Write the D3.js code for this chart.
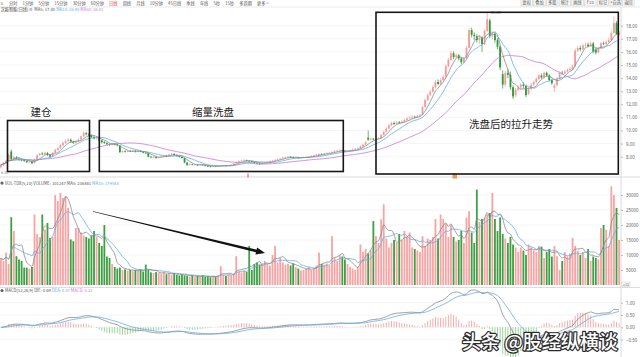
<!DOCTYPE html>
<html><head><meta charset="utf-8">
<script src="https://cdn.jsdelivr.net/npm/d3@7/dist/d3.min.js"></script>
<style>html,body{margin:0;padding:0;background:#fff;overflow:hidden}svg{display:block;font-family:"Noto Sans CJK SC","Noto Sans",sans-serif}</style>
</head><body><svg id="c" width="640" height="357"></svg>
<script>
// ===== DATA =====
const open=[
7.20,7.35,7.50,7.72,8.40,7.80,7.95,7.85,7.78,7.74,
7.66,7.58,7.60,7.52,7.80,8.12,8.24,8.18,8.28,8.12,
8.02,8.30,8.52,8.66,8.88,9.05,9.22,9.30,9.15,9.06,
9.18,9.32,9.55,9.80,9.70,9.64,9.50,9.40,9.46,9.25,
9.12,9.04,8.95,8.90,8.98,8.92,8.85,8.35,8.42,8.38,
8.45,8.40,8.45,8.38,8.44,8.40,8.30,8.28,8.00,7.95,
7.98,7.90,7.96,8.02,8.10,8.06,8.15,8.22,8.12,8.05,
7.98,7.90,7.55,7.37,7.42,7.38,7.40,7.36,7.39,7.37,
7.30,7.28,7.24,7.28,7.26,7.30,7.30,7.34,7.31,7.35,
7.37,7.48,7.58,7.66,7.70,7.74,7.68,7.67,7.60,7.52,
7.48,7.45,7.52,7.56,7.60,7.66,7.70,7.76,7.80,7.86,
7.92,7.96,8.00,7.96,7.92,7.94,7.90,7.93,7.95,7.98,
8.00,8.06,8.10,8.15,8.20,8.18,8.24,8.28,8.30,8.36,
8.42,8.46,8.50,8.44,8.40,8.42,8.48,8.55,8.60,8.65,
8.78,8.92,9.45,9.30,9.38,9.32,9.36,9.40,9.66,9.90,
10.15,10.40,10.57,10.50,10.62,10.58,10.67,10.80,10.92,10.98,
11.05,11.00,11.12,11.20,11.80,12.33,12.70,12.95,13.30,13.70,
13.55,13.85,14.10,14.90,15.40,15.90,15.60,15.75,15.50,15.20,
15.50,16.30,17.67,17.30,17.20,16.90,17.10,16.60,17.60,18.40,
17.20,17.40,16.90,16.40,14.30,13.50,14.40,14.25,13.30,12.70,
13.10,13.30,13.50,13.40,12.80,13.20,13.50,13.70,13.95,14.20,
14.05,14.40,14.20,13.85,13.25,13.45,13.95,14.40,14.35,14.50,
14.62,14.70,14.90,16.10,16.30,16.20,16.50,16.55,16.45,16.65,
16.20,15.95,16.30,16.65,16.60,16.75,16.90,17.45,18.20,17.35];
const close=[
7.38,7.52,7.70,8.15,7.80,7.95,7.85,7.80,7.75,7.68,
7.58,7.62,7.50,7.80,8.10,8.22,8.18,8.30,8.12,8.00,
8.30,8.52,8.66,8.88,9.05,9.20,9.30,9.15,9.05,9.18,
9.30,9.55,9.80,9.72,9.65,9.50,9.40,9.48,9.25,9.10,
9.05,8.95,8.90,8.98,8.92,8.88,8.35,8.42,8.38,8.45,
8.40,8.46,8.38,8.44,8.40,8.30,8.28,8.00,7.95,7.98,
7.90,7.96,8.02,8.10,8.06,8.15,8.22,8.12,8.05,7.98,
7.90,7.55,7.37,7.42,7.38,7.40,7.36,7.39,7.37,7.30,
7.28,7.24,7.28,7.26,7.30,7.30,7.34,7.31,7.35,7.37,
7.48,7.58,7.66,7.70,7.74,7.68,7.67,7.60,7.52,7.48,
7.45,7.52,7.56,7.60,7.66,7.70,7.76,7.80,7.86,7.92,
7.96,8.00,7.96,7.92,7.94,7.90,7.93,7.95,7.98,8.00,
8.06,8.10,8.15,8.20,8.18,8.24,8.28,8.30,8.36,8.42,
8.46,8.50,8.44,8.40,8.42,8.48,8.55,8.60,8.65,8.78,
8.92,9.10,9.30,9.38,9.32,9.36,9.40,9.66,9.90,10.15,
10.40,10.57,10.50,10.62,10.58,10.67,10.80,10.92,10.98,11.05,
11.00,11.12,11.18,11.80,12.33,12.70,12.95,13.30,13.70,13.55,
13.85,14.10,14.90,15.40,15.90,15.60,15.75,15.50,15.20,15.50,
16.30,17.67,17.30,17.20,16.90,17.10,16.60,17.60,18.50,17.20,
17.40,16.90,16.40,14.80,13.50,14.40,14.25,13.30,12.60,13.10,
13.30,13.50,13.40,12.70,13.20,13.50,13.70,13.95,14.20,14.05,
14.40,14.20,13.85,13.60,13.45,13.95,14.40,14.35,14.50,14.62,
14.70,14.90,16.10,16.30,16.20,16.50,16.55,16.45,16.65,16.00,
15.95,16.30,16.65,16.60,16.75,16.90,17.45,18.20,17.35,17.45];
const high=[
7.45,7.60,7.78,8.25,8.55,8.05,8.05,7.95,7.88,7.80,
7.72,7.70,7.66,7.86,8.18,8.30,8.35,8.40,8.36,8.18,
8.36,8.60,8.75,8.96,9.15,9.30,9.42,9.38,9.22,9.25,
9.38,9.62,9.95,9.90,9.80,9.70,9.58,9.55,9.52,9.30,
9.20,9.10,9.02,9.05,9.05,8.98,8.88,8.50,8.48,8.52,
8.50,8.52,8.50,8.50,8.48,8.44,8.36,8.30,8.05,8.04,
8.02,8.00,8.08,8.15,8.14,8.20,8.28,8.26,8.16,8.08,
8.02,7.92,7.58,7.48,7.46,7.45,7.44,7.43,7.42,7.40,
7.34,7.31,7.32,7.31,7.34,7.35,7.38,7.37,7.39,7.42,
7.52,7.62,7.72,7.76,7.80,7.78,7.72,7.70,7.63,7.56,
7.52,7.56,7.60,7.65,7.70,7.75,7.80,7.86,7.90,7.98,
8.02,8.06,8.04,8.00,7.98,7.97,7.97,8.00,8.02,8.05,
8.10,8.15,8.20,8.25,8.24,8.28,8.33,8.36,8.41,8.47,
8.52,8.56,8.54,8.48,8.46,8.52,8.60,8.66,8.72,8.84,
8.98,9.18,10.00,9.45,9.44,9.42,9.48,9.72,9.98,10.25,
10.50,10.66,10.68,10.70,10.72,10.78,10.88,11.00,11.08,11.15,
11.14,11.20,11.28,11.90,12.45,12.85,13.10,13.45,13.85,13.90,
13.98,14.25,15.05,15.55,16.10,16.05,15.90,15.85,15.60,15.62,
16.45,17.80,17.85,17.50,17.35,17.25,17.20,17.75,18.90,18.55,
17.60,17.50,17.05,16.50,14.60,14.55,14.70,14.50,13.45,13.25,
13.45,13.60,13.70,13.50,13.30,13.62,13.82,14.05,14.30,14.35,
14.50,14.50,14.30,13.95,13.60,14.05,14.50,14.55,14.65,14.75,
14.85,15.05,16.25,16.45,16.50,16.62,16.70,16.72,16.80,16.75,
16.30,16.40,16.78,16.80,16.90,17.05,17.60,18.70,18.35,17.60];
const low=[
7.10,7.30,7.45,7.68,7.72,7.72,7.78,7.70,7.66,7.58,
7.50,7.52,7.42,7.48,7.76,8.05,8.10,8.12,8.06,7.92,
7.98,8.25,8.45,8.60,8.82,8.98,9.12,9.05,8.98,9.00,
9.10,9.28,9.50,9.62,9.55,9.42,9.32,9.30,9.18,9.02,
8.98,8.88,8.82,8.85,8.86,8.80,8.28,8.30,8.32,8.34,
8.35,8.36,8.32,8.33,8.35,8.25,8.22,7.95,7.88,7.90,
7.85,7.86,7.92,7.98,8.00,8.02,8.10,8.08,8.00,7.92,
7.85,7.50,7.30,7.32,7.33,7.34,7.30,7.32,7.32,7.26,
7.22,7.18,7.20,7.21,7.22,7.25,7.26,7.27,7.28,7.30,
7.33,7.44,7.54,7.60,7.64,7.62,7.60,7.55,7.48,7.42,
7.40,7.42,7.48,7.52,7.56,7.62,7.66,7.72,7.76,7.82,
7.88,7.92,7.91,7.87,7.88,7.85,7.86,7.89,7.91,7.94,
7.96,8.02,8.06,8.10,8.13,8.14,8.20,8.24,8.26,8.31,
8.38,8.41,8.40,8.35,8.35,8.38,8.44,8.50,8.56,8.60,
8.72,8.88,9.20,9.22,9.25,9.26,9.30,9.36,9.60,9.85,
10.10,10.32,10.42,10.44,10.50,10.52,10.60,10.74,10.86,10.90,
10.94,10.95,11.05,11.15,11.75,12.25,12.62,12.88,13.22,13.45,
13.48,13.78,14.05,14.82,15.30,15.45,15.50,15.35,15.05,15.10,
15.45,16.25,17.10,16.90,16.70,16.60,16.00,16.50,17.50,17.05,
16.95,16.70,16.20,14.60,13.20,13.35,14.00,13.10,12.40,12.55,
13.00,13.15,13.20,12.55,12.70,13.10,13.40,13.60,13.85,13.95,
13.98,14.10,13.75,13.50,12.95,13.40,13.90,14.25,14.28,14.42,
14.55,14.62,14.85,16.00,16.05,16.10,16.40,16.35,16.38,15.90,
15.80,15.88,16.22,16.50,16.52,16.65,16.85,17.40,17.30,17.20];
const volume=[
9000,8000,10800,7000,22600,18000,9600,8500,8000,5800,
5800,5500,6000,23500,17000,16000,23500,18500,20700,15700,
16000,30000,28000,30700,29000,29600,25700,15200,14600,19000,
19000,17500,16500,16000,15500,16500,18000,16000,14000,13000,
20000,9500,9000,7000,6000,5500,5800,5000,5200,4800,
5000,4600,5000,4800,5200,4500,6800,5000,4200,4000,
4300,4000,3800,4200,3600,4000,3500,3800,3400,3200,
3500,3200,3000,2800,3200,2600,3000,2800,3300,2700,
2900,2600,3000,2800,3200,6300,3400,3000,3600,3300,
3800,9600,4500,4200,4800,4400,13000,5000,7000,7500,
6800,7200,8000,7000,6500,10000,13000,7500,9000,7500,
6800,7000,6500,7200,6000,5500,4800,5000,5500,6000,
5000,5500,6500,10800,7000,6800,7200,6500,16300,9000,
8000,10000,9500,8500,7000,6000,5500,5000,6000,13500,
11000,12000,10500,11500,21300,16300,14000,21900,26900,15500,
12500,14000,15000,14000,17000,15000,18000,16000,17500,12500,
12000,11500,11000,16300,13000,15500,15000,16000,22000,15500,
23500,22000,20500,16000,20000,16000,14500,15000,18000,14000,
22500,24600,17500,14000,31800,21000,22000,22500,23500,24000,
30700,22000,18000,22500,17000,15500,14000,16000,13500,12500,
11000,12500,11500,10000,13500,12500,11500,11000,13000,12800,
9000,11000,12000,9500,13000,9600,5000,8000,11000,9500,
10500,15700,13000,11500,10000,11000,9000,12000,8000,9500,
9000,8500,19000,20000,18500,13000,32900,30000,25700,15000];
const priceTicks=[8,9,10,11,12,13,14,15,16,17,18];
const volTicks=[5000,10000,15000,20000,25000,30000];
const macdTicks=[-0.5,0,0.5,1];
const periodTabs=["分时","1分钟","5分钟","15分钟","30分钟","60分钟","日线","周线","月线","10分钟","45日线","季线","年线","5秒","15秒","多周期","更多 >"];
const toolButtons=["复权","叠加","多股","统计","画线","F10","标记","+自选","返回"];
const notes=[{text:"建仓",from:3,to:34},{text:"缩量洗盘",from:38,to:133},{text:"洗盘后的拉升走势",from:146,to:239}];

// ===== CHART =====
const svg=d3.select('#c');
const N=close.length;
const axisX=621;
const x=d3.scaleBand().domain(d3.range(N)).range([0,axisX-1]).paddingInner(0.3);
const bw=x.bandwidth(), cx=i=>x(i)+bw/2;
const yP=d3.scaleLinear().domain([8,18]).range([156.7,25.7]);
const yV=d3.scaleLinear().domain([0,30000]).range([285,195]);
const yM=d3.scaleLinear().domain([-0.5,1]).range([339.6,302.7]);
const UP='#f59a9a',DOWN='#2e9a36',VUP='#f7a4a4',VDN='#3f9f45';
const C5='#8a8a8a',C10='#62aee9',C30='#c67ad2';
const isUp=i=>close[i]>=open[i];

function ma(a,n){return a.map((_,i)=>d3.mean(a.slice(Math.max(0,i-n+1),i+1)));}
function ema(a,n){const k=2/(n+1),r=[];a.forEach((v,i)=>r.push(i?r[i-1]+(v-r[i-1])*k:v));return r;}

const defs=svg.append('defs');
[['cp',8,176],['cv',186,286],['cm',288.5,357]].forEach(([id,y0,y1])=>defs.append('clipPath').attr('id',id).append('rect').attr('x',0).attr('y',y0).attr('width',axisX).attr('height',y1-y0));

// toolbar
const tb=svg.append('g').attr('font-size',4.2).attr('fill','#555');
let tx=9;
periodTabs.forEach(t=>{const el=tb.append('text').attr('x',tx).attr('y',4.6).text(t).attr('fill',t==='日线'?'#e03030':'#555');tx+=el.node().getComputedTextLength()+5.2;});
toolButtons.forEach((t,k)=>{const bx=521+k*12.7;
 tb.append('rect').attr('x',bx).attr('y',-3).attr('width',11.5).attr('height',9).attr('fill','#f7f7f7').attr('stroke','#c8c8c8').attr('stroke-width',0.5);
 tb.append('text').attr('x',bx+5.75).attr('y',4.2).attr('text-anchor','middle').text(t);});
tb.append('text').attr('x',0.5).attr('y',4.6).text('3');
svg.append('line').attr('x1',0).attr('x2',640).attr('y1',7).attr('y2',7).attr('stroke','#ddd').attr('stroke-width',0.6);

// gridlines + axes
function grid(ticks,y){svg.append('g').selectAll('line').data(ticks).join('line').attr('x1',0).attr('x2',axisX).attr('y1',d=>y(d)).attr('y2',d=>y(d)).attr('stroke','#efefef').attr('stroke-width',0.6);}
grid(priceTicks,yP);grid(volTicks,yV);grid(macdTicks,yM);
function axis(scale,ticks,fmt){const g=svg.append('g').attr('transform',`translate(${axisX},0)`).call(d3.axisRight(scale).tickValues(ticks).tickFormat(fmt).tickSize(2).tickPadding(3));
 g.select('.domain').remove();g.selectAll('line').attr('stroke','#bbb');g.selectAll('text').attr('font-size',4.4).attr('fill','#666').attr('font-family','"Noto Sans",sans-serif');}
axis(yP,priceTicks,d3.format('.2f'));axis(yV,volTicks,d3.format('d'));axis(yM,macdTicks,d3.format('.2f'));
svg.append('line').attr('x1',axisX).attr('x2',axisX).attr('y1',7).attr('y2',357).attr('stroke','#ccc').attr('stroke-width',0.7);
[177,287.5].forEach(yy=>svg.append('line').attr('x1',0).attr('x2',640).attr('y1',yy).attr('y2',yy).attr('stroke','#d4d4d4').attr('stroke-width',0.8));
svg.append('rect').attr('x',622).attr('y',282).attr('width',8).attr('height',4.5).attr('fill','#fff').attr('stroke','#bbb').attr('stroke-width',0.4);
svg.append('text').attr('x',626).attr('y',285.5).attr('text-anchor','middle').attr('font-size',3.6).attr('fill','#666').text('x10');

// legends
function legend(y,parts,icon){const t=svg.append('text').attr('x',icon?5:0.5).attr('y',y).attr('font-size',4.2);
 parts.forEach(([s,c])=>t.append('tspan').attr('fill',c).text(s));
 if(icon){svg.append('circle').attr('cx',2).attr('cy',y-1.4).attr('r',1.6).attr('fill','#666');}}
const m5=ma(close,5),m10=ma(close,10),m30=ma(close,30);
legend(11.3,[["汉缆智能(日线)  ","#444"],["⚙ ","#777"],["MA5: 17.40  ","#555"],["MA10: 16.90  ",C10],["MA30: 16.01",C30]],false);
legend(184.5,[["VOL-TDX(5,10) VOLUME: 301247  MA5: 236461  ","#555"],["MA10: 179548",C10]],true);
legend(292,[["MACD(12,26,9) DIF: 0.69  ","#555"],["DEA: 0.57  ",C10],["MACD: 0.22",C30]],true);

// candles
const gp=svg.append('g').attr('clip-path','url(#cp)');
gp.selectAll('line.w').data(d3.range(N)).join('line').attr('x1',cx).attr('x2',cx).attr('y1',i=>yP(high[i])).attr('y2',i=>yP(low[i])).attr('stroke',i=>isUp(i)?UP:DOWN).attr('stroke-width',0.7);
gp.selectAll('rect').data(d3.range(N)).join('rect').attr('x',i=>x(i)).attr('width',bw).attr('y',i=>yP(Math.max(open[i],close[i]))).attr('height',i=>Math.max(0.7,Math.abs(yP(open[i])-yP(close[i])))).attr('fill',i=>isUp(i)?UP:DOWN);
const line=(arr,y)=>d3.line().x((d,i)=>cx(i)).y(d=>y(d)).curve(d3.curveMonotoneX)(arr);
[[m30,C30],[m10,C10],[m5,C5]].forEach(([a,c])=>gp.append('path').attr('d',line(a,yP)).attr('fill','none').attr('stroke',c).attr('stroke-width',0.8));
const hiIdx=d3.maxIndex(high);
svg.append('path').attr('d',`M${cx(hiIdx)},${yP(high[hiIdx])}V${yP(high[hiIdx])-1.5}h3`).attr('stroke','#888').attr('stroke-width',0.4).attr('fill','none');
svg.append('text').attr('x',cx(hiIdx)+3.5).attr('y',yP(high[hiIdx])-0.2).attr('font-size',4.2).attr('fill','#777').text('19.89');
svg.append('text').attr('x',1).attr('y',174).attr('font-size',3.8).attr('fill','#888').text('6.80');

// volume
const gv=svg.append('g').attr('clip-path','url(#cv)');
gv.selectAll('rect').data(d3.range(N)).join('rect').attr('x',i=>x(i)).attr('width',bw).attr('y',i=>yV(volume[i])).attr('height',i=>yV(0)-yV(volume[i])).attr('fill',i=>isUp(i)?VUP:VDN);
[[ma(volume,10),C10],[ma(volume,5),C5]].forEach(([a,c])=>gv.append('path').attr('d',line(a,yV)).attr('fill','none').attr('stroke',c).attr('stroke-width',0.8));

// MACD
const e12=ema(close,12),e26=ema(close,26);
const dif=e12.map((v,i)=>v-e26[i]),dea=ema(dif,9),hist=dif.map((v,i)=>2*(v-dea[i]));
const gm=svg.append('g').attr('clip-path','url(#cm)');
gm.selectAll('line').data(d3.range(N)).join('line').attr('x1',cx).attr('x2',cx).attr('y1',yM(0)).attr('y2',i=>yM(hist[i])).attr('stroke',i=>hist[i]>=0?'#f5a3a3':'#8fcf8f').attr('stroke-width',0.9);
gm.append('path').attr('d',line(dif,yM)).attr('fill','none').attr('stroke',C5).attr('stroke-width',0.8);
gm.append('path').attr('d',line(dea,yM)).attr('fill','none').attr('stroke',C10).attr('stroke-width',0.8);

// markers on date axis
svg.append('line').attr('x1',248).attr('x2',248).attr('y1',173.5).attr('y2',177.5).attr('stroke','#e02020').attr('stroke-width',0.8);
svg.append('rect').attr('x',452.5).attr('y',173.5).attr('width',4.5).attr('height',5).attr('fill','#e39a5a');

// annotation boxes
const boxes=[{x0:7.5,x1:89.5,y0:120.5,y1:171.5,tx:41,ty:116},{x0:99.3,x1:343.3,y0:120.5,y1:171.5,tx:213,ty:116},{x0:376,x1:618.3,y0:12.3,y1:174,tx:511,ty:127.5}];
boxes.forEach((b,k)=>{svg.append('rect').attr('x',b.x0).attr('y',b.y0).attr('width',b.x1-b.x0).attr('height',b.y1-b.y0).attr('fill','none').attr('stroke','#161616').attr('stroke-width',1.6);
 svg.append('text').attr('x',b.tx).attr('y',b.ty).attr('text-anchor','middle').attr('font-size',10.5).attr('fill','#1a1a1a').text(notes[k].text);});

// arrow
(function(){const x0=93,y0=211.5,x1=265,y1=253;const dx=x1-x0,dy=y1-y0,L=Math.hypot(dx,dy),ux=dx/L,uy=dy/L,px=-uy,py=ux;
 const hl=9,hx=x1-ux*hl,hy=y1-uy*hl;
 const pts=[[x0+px*0.35,y0+py*0.35],[hx+px*1.3,hy+py*1.3],[hx+px*3.6,hy+py*3.6],[x1,y1],[hx-px*3.6,hy-py*3.6],[hx-px*1.3,hy-py*1.3],[x0-px*0.35,y0-py*0.35]];
 svg.append('path').attr('d','M'+pts.map(p=>p.join(',')).join('L')+'Z').attr('fill','#111');})();

// watermark
svg.append('text').attr('x',462).attr('y',349).attr('font-size',19).attr('font-weight',500).attr('fill','#fff').attr('stroke','#2b2b2b').attr('stroke-width',2.4).attr('paint-order','stroke').attr('stroke-linejoin','round').text('头条 @股经纵横谈');
</script></body></html>
